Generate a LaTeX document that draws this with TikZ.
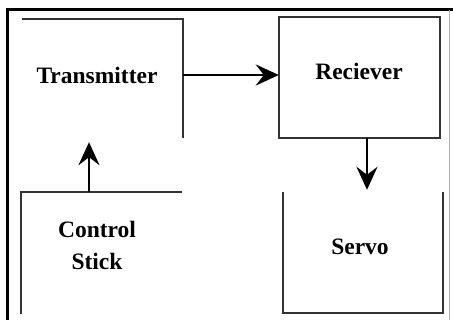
\documentclass[tikz,border=0pt]{standalone}
\usepackage{fontspec}
\setmainfont{Liberation Serif}
\usetikzlibrary{arrows.meta}
\begin{document}
\begin{tikzpicture}[x=1pt,y=-1pt,
  box/.style={rectangle, inner sep=0pt, minimum width=#1},
  edge/.style={line width=1.6pt, draw=black!80},
  lbl/.style={font=\fontsize{23.5}{32}\selectfont\bfseries, align=center, inner sep=0pt},
  arr/.style={line width=2.8pt, draw=black, -{Stealth[length=23pt,width=21pt,inset=8pt]}}]
\useasboundingbox (0,0) rectangle (453,320);
% outer frame
\draw[line width=3pt, black] (7.5,320) -- (7.5,10) -- (453,10);
\draw[line width=0.8pt, black!30] (449,10) -- (449,320);
% boxes (shapes only)
\node[box=161pt, minimum height=119pt] (tx) at (102.5,78.5) {};
\node[box=161pt, minimum height=121pt] (rx) at (359.5,77.5) {};
\node[box=160pt, minimum height=121pt] (sv) at (363,252.5) {};
\node[box=161pt, minimum height=122pt] (cs) at (101.5,253) {};
\draw[edge] (tx.north west) -- (tx.north east) -- (tx.south east);
\draw[edge] (rx.north west) rectangle (rx.south east);
\draw[edge] (sv.north west) -- (sv.south west) -- (sv.south east) -- (sv.north east);
\draw[edge] (cs.south west) -- (cs.north west) -- (cs.north east);
% labels
\node[lbl] (txl) at (97,75) {Transmitter};
\node[lbl] (rxl) at (359,71) {Reciever};
\node[lbl] (svl) at (360,247) {Servo};
\node[lbl] (csl) at (97,245) {Control\\Stick};
% connectors
\draw[arr] ([yshift=3.5pt]tx.east) -- ([yshift=2.5pt]rx.west);
\draw[arr, shorten >=2pt] ([xshift=7.5pt]rx.south) -- ([xshift=7.5pt]rx.south |- sv.north);
\draw[arr, shorten >=4pt] ([xshift=-12.5pt]cs.north) -- ([xshift=-12.5pt]cs.north |- tx.south);
\end{tikzpicture}
\end{document}
